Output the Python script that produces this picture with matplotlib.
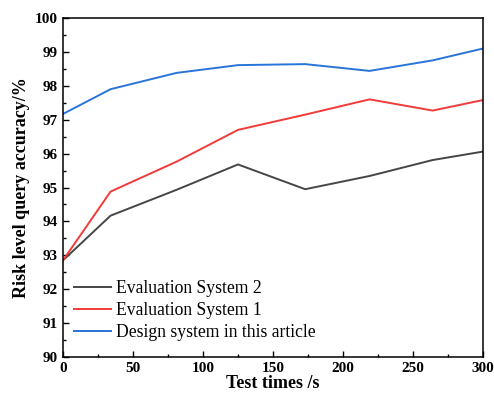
import matplotlib
matplotlib.use("Agg")
import matplotlib.pyplot as plt
from matplotlib.ticker import MultipleLocator

x = [0, 34, 81, 125, 173, 219, 264, 300]
sys2 = [92.85, 94.17, 94.93, 95.68, 94.95, 95.34, 95.81, 96.06]
sys1 = [92.85, 94.88, 95.76, 96.70, 97.15, 97.60, 97.27, 97.58]
design = [97.17, 97.90, 98.38, 98.61, 98.64, 98.44, 98.75, 99.10]
labels = ["Evaluation System 2", "Evaluation System 1", "Design system in this article"]
colors = ["#464646", "#f23a3a", "#2874d8"]

plt.rcParams['font.family'] = ['Liberation Serif', 'DejaVu Serif']
fig = plt.figure(figsize=(4.94, 3.96), dpi=100)
ax = fig.add_axes([0.1275, 0.0985, 0.8502, 0.856])
for y, lab, c in zip([sys2, sys1, design], labels, colors):
    ax.plot(x, y, color=c, lw=1.4, label=lab)
ax.set_xlim(0, 300)
ax.set_ylim(90, 100)
ax.xaxis.set_major_locator(MultipleLocator(50))
ax.xaxis.set_minor_locator(MultipleLocator(25))
ax.yaxis.set_major_locator(MultipleLocator(1))
ax.yaxis.set_minor_locator(MultipleLocator(0.5))
ax.tick_params(which='both', direction='in', top=False, right=False, labelsize=11, width=1)
ax.tick_params(which='major', length=4)
ax.tick_params(which='minor', length=2)
for lbl in ax.get_xticklabels() + ax.get_yticklabels():
    lbl.set_fontweight('bold')
for s in ax.spines.values():
    s.set_linewidth(1.1)
ax.set_xlabel("Test times /s", fontsize=13, fontweight='bold', labelpad=0)
ax.set_ylabel("Risk level query accuracy/%", fontsize=13, fontweight='bold', labelpad=4)
ax.legend(loc='lower left', frameon=False, fontsize=12.7, handlelength=2.1,
          handletextpad=0.3, labelspacing=0.28, borderaxespad=0.2,
          bbox_to_anchor=(0.0, 0.016))
fig.savefig("out.png", dpi=100)
